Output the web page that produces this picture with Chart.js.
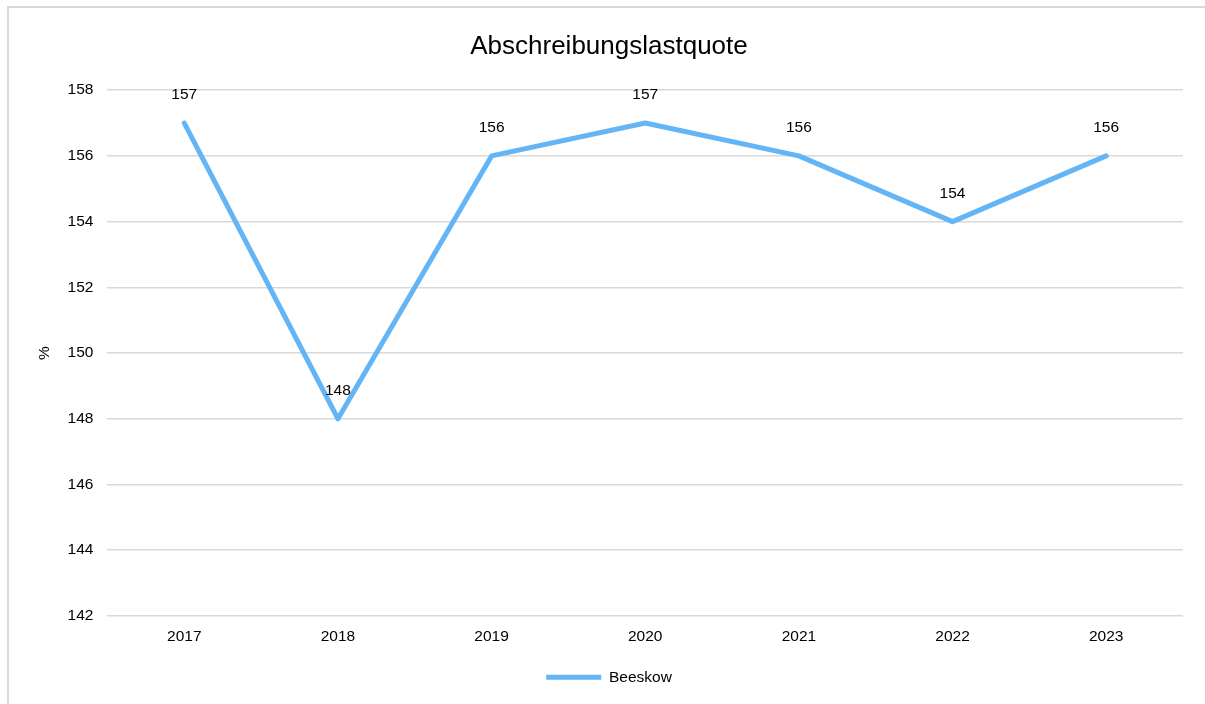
<!DOCTYPE html>
<html>
<head>
<meta charset="utf-8">
<script src="https://cdn.jsdelivr.net/npm/chart.js@4"></script>
<style>
body{margin:0;background:#fff;}
#frame{position:absolute;left:7px;top:6px;width:1300px;height:800px;border:2px solid #d9d9d9;box-sizing:border-box;pointer-events:none;}
#wrap{position:absolute;left:0;top:0;width:1205px;height:704px;}
</style>
</head>
<body>
<div id="wrap"><canvas id="chart"></canvas></div>
<div id="frame"></div>
<script>
const jahre = ["2017","2018","2019","2020","2021","2022","2023"];
const beeskow = [157,148,156,157,156,154,156];
const serienName = "Beeskow";

const schrift = "'Liberation Sans', Arial, sans-serif";

// Werte über den Punkten
const labelPlugin = {
id:"werte",
afterDatasetsDraw(chart){
const ctx = chart.ctx;
const meta = chart.getDatasetMeta(0);
ctx.save();
ctx.font = "15.5px " + schrift;
ctx.fillStyle = "#000";
ctx.textAlign = "center";
ctx.textBaseline = "middle";
meta.data.forEach((p,i)=>{
ctx.fillText(beeskow[i], p.x, p.y - 28);
});
ctx.restore();
}
};

new Chart(document.getElementById("chart"),{
type:"line",
data:{
labels:jahre,
datasets:[{
label:serienName,
data:beeskow,
borderColor:"#64b5f6",
backgroundColor:"#64b5f6",
borderWidth:5,
borderCapStyle:"round",
borderJoinStyle:"round",
pointRadius:0,
tension:0
}]
},
options:{
responsive:true,
maintainAspectRatio:false,
animation:false,
layout:{padding:{left:35,right:22,top:14,bottom:9}},
plugins:{
title:{
display:true,
text:"Abschreibungslastquote",
color:"#000",
font:{family:schrift,size:26,weight:"normal"},
padding:{top:17,bottom:28}
},
legend:{
position:"bottom",
labels:{
color:"#000",
font:{family:schrift,size:15.5},
usePointStyle:true,
pointStyle:"line",
pointStyleWidth:55,
boxHeight:5,
padding:19
}
},
tooltip:{enabled:false}
},
scales:{
x:{
offset:true,
grid:{display:false},
border:{display:false},
ticks:{color:"#000",font:{family:schrift,size:15.5},padding:4}
},
y:{
min:142,
max:158,
ticks:{stepSize:2,color:"#000",font:{family:schrift,size:15.5},padding:14},
grid:{color:"#d9d9d9",lineWidth:1.5,drawTicks:false},
border:{display:false},
title:{display:true,text:"%",color:"#000",font:{family:schrift,size:15.5},padding:0}
}
}
},
plugins:[labelPlugin]
});
</script>
</body>
</html>
